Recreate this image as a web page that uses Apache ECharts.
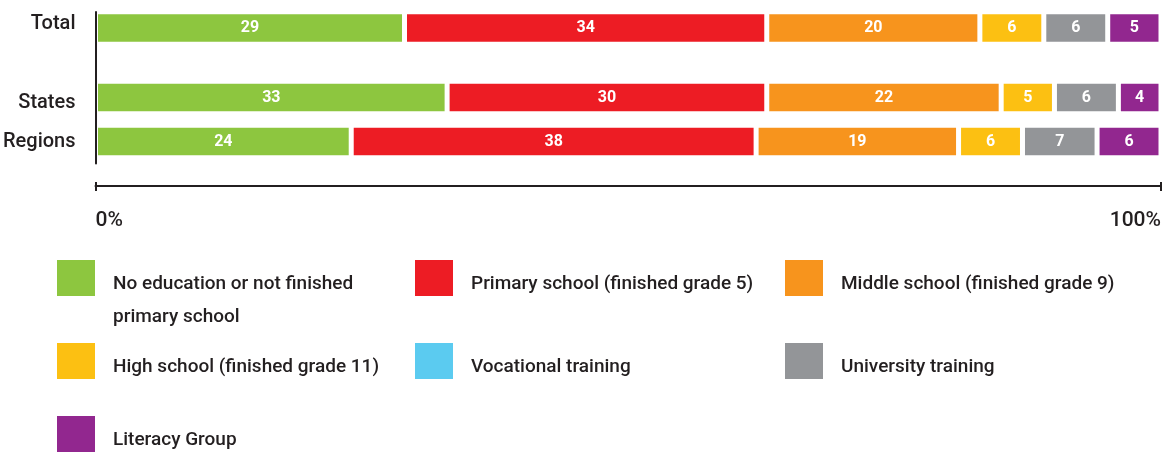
<!DOCTYPE html>
<html>
<head>
<meta charset="utf-8">
<script src="https://cdn.jsdelivr.net/npm/echarts@6/dist/echarts.min.js"></script>
<style>
html,body{margin:0;padding:0;background:#fff;}
#chart{width:1162px;height:457px;}
</style>
</head>
<body>
<div id="chart"></div>
<script>
// ---- data ----
var categories = ['Total', 'States', 'Regions'];
var seriesNames = [
  'No education or not finished primary school',
  'Primary school (finished grade 5)',
  'Middle school (finished grade 9)',
  'High school (finished grade 11)',
  'Vocational training',
  'University training',
  'Literacy Group'
];
var noEducation = [29, 33, 24];
var primarySchool = [34, 30, 38];
var middleSchool = [20, 22, 19];
var highSchool = [6, 5, 6];
var vocational = [null, null, null];
var university = [6, 6, 7];
var literacy = [5, 4, 6];
var xTicks = [0, 100];
var seriesColors = ['#8dc63f', '#ed1c24', '#f7941d', '#fcc012', '#5bcbf0', '#939598', '#92278f'];

var values = [noEducation, primarySchool, middleSchool, highSchool, vocational, university, literacy];

var FONT = "Roboto, 'Liberation Sans', sans-serif";
var INK = '#231f20';

var series = [];
values.forEach(function (vals, i) {
  var common = {
    name: seriesNames[i],
    type: 'bar',
    barWidth: 32.5,
    itemStyle: { color: seriesColors[i], borderColor: '#ffffff', borderWidth: 2.5 },
    label: {
      show: true, position: 'inside', color: '#ffffff', fontWeight: 'bold',
      fontSize: 16, fontFamily: FONT,
      formatter: function (p) { return p.value ? String(p.value) : ''; }
    },
    emphasis: { disabled: true }
  };
  series.push(Object.assign({}, common, {
    xAxisIndex: 0, yAxisIndex: 0, stack: 'top',
    data: [vals[0], null]
  }));
  series.push(Object.assign({}, common, {
    xAxisIndex: 1, yAxisIndex: 1, stack: 'bottom',
    data: vals.slice(1)
  }));
});

// legend layout: three columns, three rows
var legendCols = [57, 415, 785];
var legendRowTops = [260, 343, 416];
var legendPlace = [[0,0],[0,1],[0,2],[1,0],[1,1],[1,2],[2,0]];
var legends = seriesNames.map(function (name, i) {
  var r = legendPlace[i][0], c = legendPlace[i][1];
  var twoLine = (i === 0);
  // square swatch at the top of a taller (invisible) icon box so the label sits a little lower
  var boxH = twoLine ? 81 : 48;
  return {
    data: [{ name: name, icon: 'path://M0,0h38v36h-38z M0,' + boxH + 'h0' }],
    left: legendCols[c],
    top: legendRowTops[r],
    padding: 0,
    itemWidth: 38,
    itemHeight: boxH,
    itemGap: 0,
    selectedMode: false,
    itemStyle: { borderWidth: 0 },
    formatter: twoLine ? function () { return 'No education or not finished\nprimary school'; } : '{name}',
    textStyle: {
      color: INK, fontSize: 19, fontWeight: 500, fontFamily: FONT, lineHeight: 33,
      padding: [0, 0, 0, 13]
    }
  };
});

var yLabel = {
  color: INK, fontSize: 20, fontWeight: 500, fontFamily: FONT, margin: 20,
  formatter: function (v) {
    if (v === 'Total') return '{up|' + v + '}';
    if (v === 'States') return '{down|' + v + '}';
    return v;
  },
  rich: {
    up: { color: INK, fontSize: 20, fontWeight: 500, fontFamily: FONT, padding: [0, 0, 8, 0] },
    down: { color: INK, fontSize: 20, fontWeight: 500, fontFamily: FONT, padding: [10, 0, 0, 0] }
  }
};

var option = {
  animation: false,
  backgroundColor: '#ffffff',
  legend: legends,
  grid: [
    { left: 95.5, right: 1, top: 12, height: 63.5, containLabel: false, outerBoundsMode: 'none' },
    { left: 95.5, right: 1, top: 75.5, height: 88, containLabel: false, outerBoundsMode: 'none' }
  ],
  xAxis: [
    { gridIndex: 0, type: 'value', min: xTicks[0], max: xTicks[1], show: false },
    {
      gridIndex: 1, type: 'value', min: xTicks[0], max: xTicks[1], interval: xTicks[1] - xTicks[0],
      position: 'bottom', offset: 22.5,
      axisLine: { show: true, lineStyle: { color: INK, width: 2 } },
      axisTick: { show: true, length: 5, lineStyle: { color: INK, width: 2 } },
      splitLine: { show: false },
      axisLabel: {
        color: INK, fontSize: 21, fontWeight: 500, fontFamily: FONT, margin: 24,
        alignMinLabel: 'left', alignMaxLabel: 'right',
        formatter: '{value}%'
      }
    },
    {
      gridIndex: 1, type: 'value', min: xTicks[0], max: xTicks[1], interval: xTicks[1] - xTicks[0],
      position: 'bottom', offset: 22.5,
      axisLine: { show: false },
      axisTick: { show: true, inside: true, length: 4, lineStyle: { color: INK, width: 2 } },
      splitLine: { show: false },
      axisLabel: { show: false }
    }
  ],
  yAxis: [
    {
      gridIndex: 0, type: 'category', inverse: true, data: [categories[0], ''], z: 5,
      axisLine: { show: true, lineStyle: { color: INK, width: 2 } },
      axisTick: { show: false }, splitLine: { show: false },
      axisLabel: yLabel
    },
    {
      gridIndex: 1, type: 'category', inverse: true, data: categories.slice(1), z: 5,
      axisLine: { show: true, lineStyle: { color: INK, width: 2 } },
      axisTick: { show: false }, splitLine: { show: false },
      axisLabel: yLabel
    }
  ],
  series: series
};

var chart = echarts.init(document.getElementById('chart'), null, { renderer: 'canvas' });
chart.setOption(option);
</script>
</body>
</html>
